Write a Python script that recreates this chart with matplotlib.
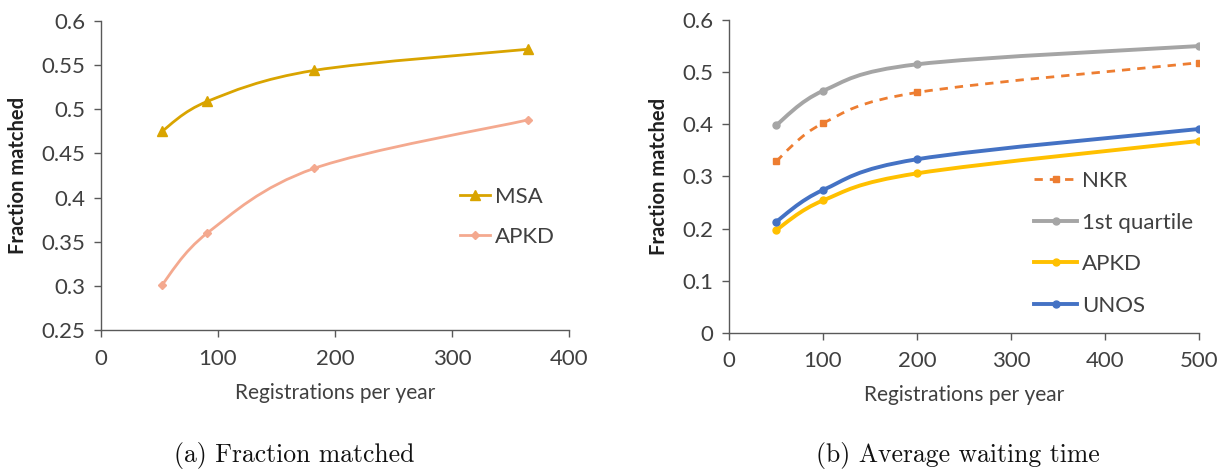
import matplotlib
matplotlib.use("Agg")
import matplotlib.pyplot as plt
import numpy as np
from matplotlib.path import Path
from matplotlib.patches import PathPatch
from matplotlib.lines import Line2D
from matplotlib.ticker import FuncFormatter, MultipleLocator

# ---- data ----
left_x = [52, 91, 182, 365]
left_msa = [0.475, 0.509, 0.544, 0.568]
left_apkd = [0.301, 0.360, 0.433, 0.488]

right_x = [50, 100, 200, 500]
right_nkr = [0.329, 0.402, 0.461, 0.518]
right_q1 = [0.398, 0.464, 0.515, 0.550]
right_apkd = [0.197, 0.254, 0.306, 0.368]
right_unos = [0.213, 0.274, 0.333, 0.391]

caption_a = "(a) Fraction matched"
caption_b = "(b) Average waiting time"

FONT = ["Lato", "DejaVu Sans"]
plt.rcParams['font.family'] = FONT

fig = plt.figure(figsize=(12.2, 4.69), dpi=100)


def smooth_path(x, y):
    """Excel-like smoothed line as cubic Bezier through the data points."""
    P = np.column_stack([x, y]).astype(float)
    n = len(P)
    verts = [P[0]]
    codes = [Path.MOVETO]
    for i in range(n - 1):
        p0 = P[i - 1] if i > 0 else P[i]
        p1 = P[i]
        p2 = P[i + 1]
        p3 = P[i + 2] if i + 2 < n else P[i + 1]
        c1 = p1 + (p2 - p0) / 6.0
        c2 = p2 - (p3 - p1) / 6.0
        verts += [c1, c2, p2]
        codes += [Path.CURVE4] * 3
    return Path(verts, codes)


def draw_series(ax, x, y, color, marker, ms, lw, ls='-', label=None, dashes=None):
    patch = PathPatch(smooth_path(x, y), facecolor='none', edgecolor=color,
                      lw=lw, linestyle=ls, capstyle='butt', zorder=2)
    ax.add_patch(patch)
    ax.plot(x, y, linestyle='none', marker=marker, ms=ms, color=color,
            markeredgecolor=color, zorder=3)
    kw = dict(color=color, lw=lw, marker=marker, ms=ms)
    if dashes is not None:
        kw['dashes'] = dashes
    return Line2D([], [], label=label, **kw)


def style_axes(ax, xpad):
    for s in ['top', 'right']:
        ax.spines[s].set_visible(False)
    for s in ['left', 'bottom']:
        ax.spines[s].set_color('#595959')
        ax.spines[s].set_linewidth(1.0)
    ax.tick_params(axis='both', direction='out', length=5, width=1.0,
                   color='#595959', labelcolor='#404040', labelsize=16)
    ax.tick_params(axis='x', pad=xpad)
    ax.tick_params(axis='y', pad=6)
    ax.yaxis.set_major_formatter(FuncFormatter(lambda v, p: f"{v:g}"))


axc = '#404040'

# ---- left chart ----
axL = fig.add_axes([0.0828, 0.2964, 0.3836, 0.6588])
axL.set_xlim(0, 400)
axL.set_ylim(0.25, 0.6)
axL.xaxis.set_major_locator(MultipleLocator(100))
axL.yaxis.set_major_locator(MultipleLocator(0.05))
style_axes(axL, 9)
hL1 = draw_series(axL, left_x, left_msa, '#D9A400', '^', 6.5, 2.0, label='MSA')
hL2 = draw_series(axL, left_x, left_apkd, '#F4A98F', 'D', 4, 2.0, label='APKD')
axL.set_xlabel('Registrations per year', fontsize=15, color=axc, labelpad=10)
axL.set_ylabel('Fraction matched', fontsize=14.5, color='#202020', fontweight='bold', labelpad=10)
axL.legend(handles=[hL1, hL2], loc='center left', bbox_to_anchor=(0.768, 0.366),
           frameon=False, fontsize=16, handlelength=1.35, handletextpad=0.2,
           labelspacing=0.9, labelcolor=axc, borderpad=0, borderaxespad=0)

# ---- right chart ----
axR = fig.add_axes([0.5975, 0.29, 0.3852, 0.6674])
axR.set_xlim(0, 500)
axR.set_ylim(0, 0.6)
axR.xaxis.set_major_locator(MultipleLocator(100))
axR.yaxis.set_major_locator(MultipleLocator(0.1))
style_axes(axR, 8)
hR1 = draw_series(axR, right_x, right_nkr, '#ED7D31', 's', 5, 2.0, ls=(0, (3, 2.5)),
                  label='NKR', dashes=(3, 2.5))
hR2 = draw_series(axR, right_x, right_q1, '#A5A5A5', 'o', 5, 2.8, label='1st quartile')
hR3 = draw_series(axR, right_x, right_apkd, '#FFC000', 'o', 5, 2.8, label='APKD')
hR4 = draw_series(axR, right_x, right_unos, '#4472C4', 'o', 5, 2.8, label='UNOS')
axR.set_xlabel('Registrations per year', fontsize=15, color=axc, labelpad=10)
axR.set_ylabel('Fraction matched', fontsize=14.5, color='#202020', fontweight='bold', labelpad=10)
axR.legend(handles=[hR1, hR2, hR3, hR4], loc='center left', bbox_to_anchor=(0.65, 0.286),
           frameon=False, fontsize=16, handlelength=1.9, handletextpad=0.25,
           labelspacing=0.97, labelcolor=axc, borderpad=0, borderaxespad=0)

# ---- captions ----
fig.text(294 / 1220, 1 - 455 / 469, caption_a, ha='center', va='center',
         fontsize=18.5, family='cmr10', color='#111111')
fig.text(958 / 1220, 1 - 455 / 469, caption_b, ha='center', va='center',
         fontsize=18.5, family='cmr10', color='#111111')

fig.savefig('out.png', dpi=100)
